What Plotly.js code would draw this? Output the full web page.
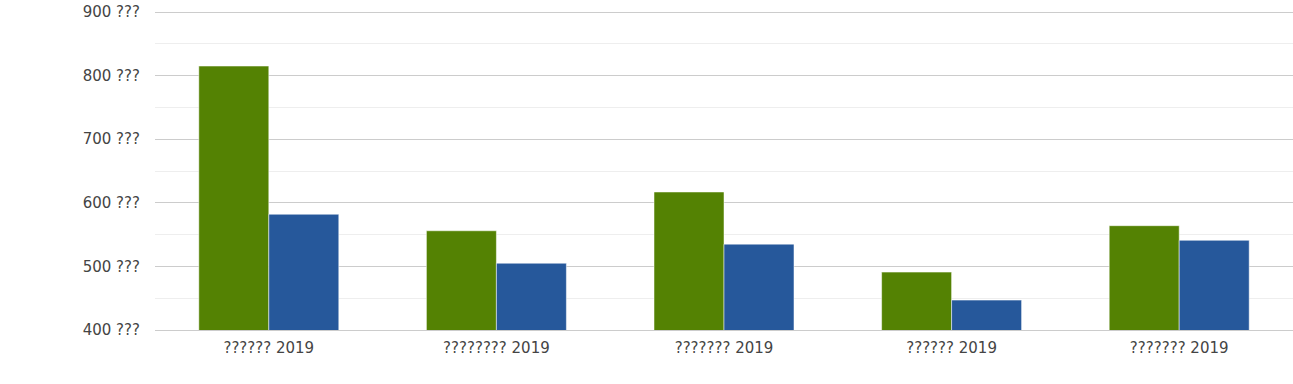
<!DOCTYPE html>
<html><head><meta charset="utf-8">
<script src="https://cdn.plot.ly/plotly-3.0.1.min.js"></script>
<style>html,body{margin:0;padding:0;background:#fff}#chart{width:1293px;height:384px}</style>
</head><body><div id="chart"></div>
<script>
const categories = ["?????? 2019", "???????? 2019", "??????? 2019", "?????? 2019", "??????? 2019"];
const seriesGreen = [815, 556, 617, 491, 564];
const seriesBlue = [582, 505, 535, 447, 541];
const tickValues = [400, 500, 600, 700, 800, 900];
const tickSuffix = " ???";

const xPos = categories.map((c, i) => i);
const data = [
  {type: "bar", x: xPos, y: seriesGreen, marker: {color: "#548203", line: {color: "#fff", width: 0.5}}, hoverinfo: "none"},
  {type: "bar", x: xPos, y: seriesBlue, marker: {color: "#26589b", line: {color: "#fff", width: 0.5}}, hoverinfo: "none"}
];
const layout = {
  width: 1293, height: 384,
  margin: {l: 155, r: 0, t: 9, b: 54},
  barmode: "group", bargap: 0.385, bargroupgap: 0,
  showlegend: false,
  paper_bgcolor: "#fff", plot_bgcolor: "#fff",
  font: {family: "DejaVu Sans", size: 15, color: "#444"},
  xaxis: {range: [-0.5, categories.length - 0.5], tickvals: xPos, ticktext: categories,
    showgrid: false, zeroline: false, showline: true, linecolor: "#cccccc", linewidth: 1,
    ticks: "", ticklabelstandoff: 4, tickfont: {size: 15, color: "#444"}},
  yaxis: {range: [400, 904.72], tickvals: tickValues, ticktext: tickValues.map(v => v + tickSuffix),
    showgrid: true, gridcolor: "#cccccc", gridwidth: 1, ticklabelstandoff: 14,
    zeroline: false, showline: false, ticks: "", tickfont: {size: 15, color: "#444"},
    minor: {tick0: 450, dtick: 100, showgrid: true, gridcolor: "#eeeeee", gridwidth: 1, ticks: ""}}
};
Plotly.newPlot("chart", data, layout, {staticPlot: true, displayModeBar: false});
</script></body></html>
